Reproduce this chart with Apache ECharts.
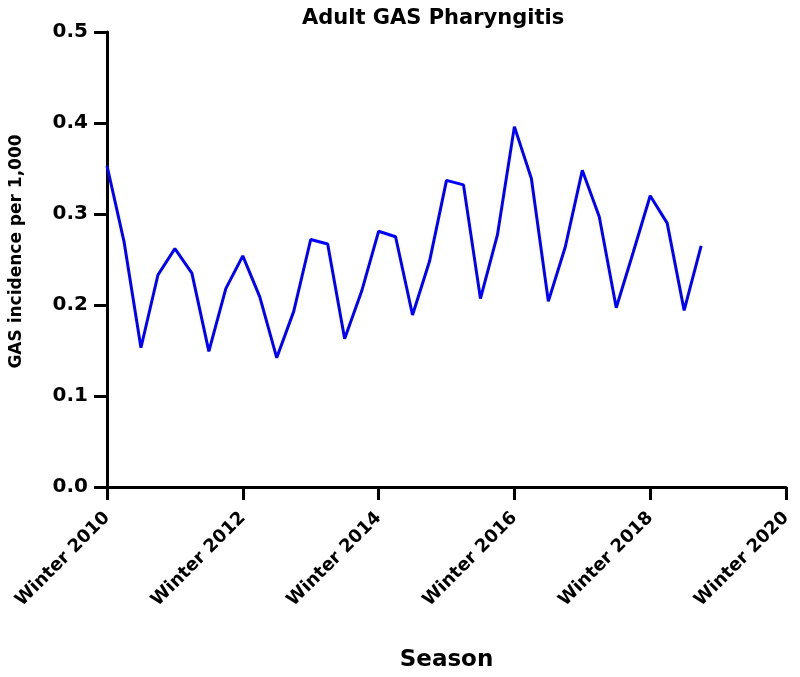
<!DOCTYPE html>
<html>
<head>
<meta charset="utf-8">
<script src="https://cdn.jsdelivr.net/npm/echarts@6/dist/echarts.min.js"></script>
<style>html,body{margin:0;padding:0;background:#fff;}#c{width:800px;height:677px;}</style>
</head>
<body>
<div id="c"></div>
<script>
// Seasons (quarterly) from Winter 2010 to Fall 2018
const seasonNames = ['Winter', 'Spring', 'Summer', 'Fall'];
const firstYear = 2010;
const incidence = [0.353, 0.270, 0.153, 0.233, 0.262, 0.235, 0.149, 0.218, 0.254, 0.209, 0.142, 0.193,
                   0.272, 0.267, 0.163, 0.215, 0.281, 0.275, 0.189, 0.248, 0.337, 0.332, 0.207, 0.277,
                   0.396, 0.339, 0.204, 0.264, 0.348, 0.297, 0.197, 0.258, 0.320, 0.290, 0.194, 0.265];
const xTickYears = [2010, 2012, 2014, 2016, 2018, 2020];
const yTicks = [0.0, 0.1, 0.2, 0.3, 0.4, 0.5];

const seasonLabels = incidence.map((v, i) => seasonNames[i % 4] + ' ' + (firstYear + Math.floor(i / 4)));
const seriesData = incidence.map((v, i) => [firstYear + i / 4, v, seasonLabels[i]]);

const FONT = 'DejaVu Sans';
const chart = echarts.init(document.getElementById('c'), null, {renderer: 'canvas'});
chart.setOption({
  animation: false,
  backgroundColor: '#ffffff',
  title: {
    text: 'Adult GAS Pharyngitis',
    left: 297, top: 3,
    textStyle: {fontFamily: FONT, fontWeight: 'bold', fontSize: 21, color: '#000'}
  },
  grid: {left: 107, right: 14, top: 32, bottom: 190, containLabel: false},
  xAxis: {
    type: 'value',
    min: xTickYears[0], max: xTickYears[xTickYears.length - 1], interval: 2,
    name: 'Season', nameLocation: 'middle', nameGap: 162,
    nameTextStyle: {fontFamily: FONT, fontWeight: 'bold', fontSize: 23, color: '#000'},
    axisLine: {show: true, lineStyle: {color: '#000', width: 3}},
    axisTick: {show: true, length: 13, lineStyle: {color: '#000', width: 3}},
    splitLine: {show: false},
    axisLabel: {
      rotate: 45, margin: 28,
      fontFamily: FONT, fontWeight: 'bold', fontSize: 18, color: '#000',
      formatter: v => 'Winter ' + v
    }
  },
  yAxis: {
    type: 'value', min: yTicks[0], max: yTicks[yTicks.length - 1], interval: 0.1,
    name: 'GAS incidence per 1,000', nameLocation: 'middle', nameGap: 82,
    nameTextStyle: {fontFamily: FONT, fontWeight: 'bold', fontSize: 17, color: '#000', padding: [0, 0, 0, 16]},
    axisLine: {show: true, lineStyle: {color: '#000', width: 3}},
    axisTick: {show: true, length: 13, lineStyle: {color: '#000', width: 3}},
    splitLine: {show: false},
    axisLabel: {
      margin: 19, fontFamily: FONT, fontWeight: 'bold', fontSize: 20, color: '#000',
      formatter: v => v.toFixed(1)
    }
  },
  series: [{
    type: 'line',
    data: seriesData,
    showSymbol: false,
    symbol: 'none',
    lineStyle: {color: '#0000ff', width: 3},
    itemStyle: {color: '#0000ff'}
  }]
});
</script>
</body>
</html>
